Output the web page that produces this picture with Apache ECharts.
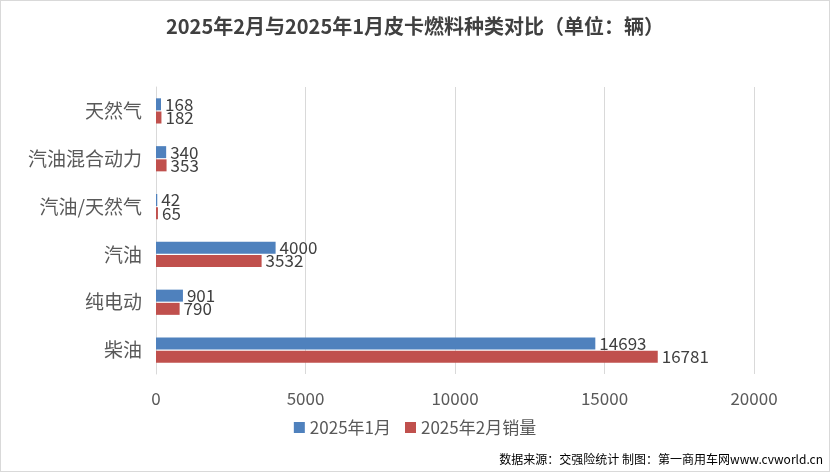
<!DOCTYPE html>
<html>
<head>
<meta charset="utf-8">
<script src="https://cdn.jsdelivr.net/npm/echarts@6/dist/echarts.min.js"></script>
<style>
html,body{margin:0;padding:0;background:#fff;}
#main{width:828px;height:470px;border:1px solid #d9d9d9;}
</style>
</head>
<body>
<div id="main"></div>
<script>
// 燃料种类（由下到上）
var categories = ['柴油', '纯电动', '汽油', '汽油/天然气', '汽油混合动力', '天然气'];
var jan = [14693, 901, 4000, 42, 340, 168];
var feb = [16781, 790, 3532, 65, 353, 182];
var xTicks = [0, 5000, 10000, 15000, 20000];

var chart = echarts.init(document.getElementById('main'));
var labelStyle = {show: true, position: 'right', color: '#404040', fontSize: 17, fontFamily: 'Noto Sans CJK SC', distance: 4};
var option = {
    title: {
        text: '2025年2月与2025年1月皮卡燃料种类对比（单位：辆）',
        left: 'center', top: 10,
        textStyle: {fontSize: 20, fontWeight: 'bold', color: '#404040', fontFamily: 'Noto Sans CJK SC'}
    },
    legend: {
        data: [{name: '2025年1月', icon: 'rect'}, {name: '2025年2月销量', icon: 'rect'}],
        bottom: 30, itemWidth: 11, itemHeight: 11, itemGap: 14,
        textStyle: {fontSize: 17, color: '#595959', fontFamily: 'Noto Sans CJK SC'}
    },
    grid: {left: 155, right: 75, top: 86, bottom: 97, containLabel: false},
    xAxis: {
        type: 'value', min: 0, max: xTicks[xTicks.length - 1], interval: 5000,
        axisLine: {show: false}, axisTick: {show: false},
        splitLine: {lineStyle: {color: '#d9d9d9'}},
        axisLabel: {fontSize: 17, color: '#595959', margin: 16, fontFamily: 'Noto Sans CJK SC',
            formatter: function (v) { return String(v); }}
    },
    yAxis: {
        type: 'category', data: categories,
        axisLine: {lineStyle: {color: '#d9d9d9'}}, axisTick: {show: false},
        axisLabel: {fontSize: 19, color: '#595959', margin: 14, fontFamily: 'Noto Sans CJK SC'}
    },
    series: [
        {name: '2025年1月', type: 'bar', data: jan, barWidth: 12, barGap: '10%',
         itemStyle: {color: '#4f81bd'}, label: labelStyle},
        {name: '2025年2月销量', type: 'bar', data: feb, barWidth: 12, barGap: '10%',
         itemStyle: {color: '#c0504d'}, label: labelStyle}
    ],
    graphic: [{
        type: 'text', right: 6, bottom: 6,
        style: {text: '数据来源：交强险统计 制图：第一商用车网www.cvworld.cn', fontSize: 12, fill: '#000', fontFamily: 'Noto Sans CJK SC'}
    }]
};
chart.setOption(option);
</script>
</body>
</html>
